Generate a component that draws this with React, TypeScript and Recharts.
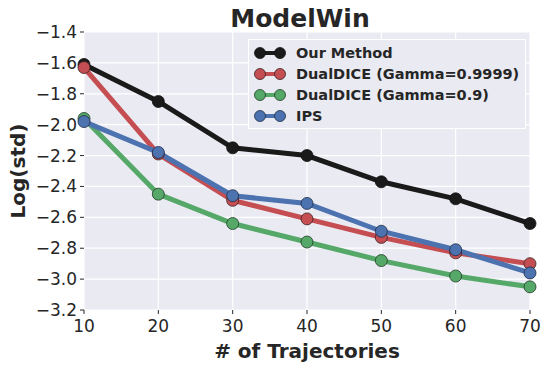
import React from 'react';
import { LineChart, Line, XAxis, YAxis, CartesianGrid } from 'recharts';

const trajectories = [10, 20, 30, 40, 50, 60, 70];
const ourMethod = [-1.61, -1.85, -2.15, -2.2, -2.37, -2.48, -2.64];
const dualDiceHigh = [-1.63, -2.19, -2.49, -2.61, -2.73, -2.83, -2.9];
const dualDiceLow = [-1.96, -2.45, -2.64, -2.76, -2.88, -2.98, -3.05];
const ips = [-1.98, -2.18, -2.46, -2.51, -2.69, -2.81, -2.96];
const yTicks = [-3.2, -3.0, -2.8, -2.6, -2.4, -2.2, -2.0, -1.8, -1.6, -1.4];

const series = [
  { key: 'our', name: 'Our Method', color: '#1a1a1a', edge: '#111111' },
  { key: 'ddHigh', name: 'DualDICE (Gamma=0.9999)', color: '#C44E52', edge: '#3a2020' },
  { key: 'ddLow', name: 'DualDICE (Gamma=0.9)', color: '#55A868', edge: '#203a25' },
  { key: 'ips', name: 'IPS', color: '#4C72B0', edge: '#1f2d45' },
];

const data = trajectories.map((t, i) => ({
  t,
  our: ourMethod[i],
  ddHigh: dualDiceHigh[i],
  ddLow: dualDiceLow[i],
  ips: ips[i],
}));

const fmt = (v: number) => (v < 0 ? '\u2212' : '') + Math.abs(v).toFixed(1);
const FONT = '"DejaVu Sans", sans-serif';

function LegendBox() {
  return (
    <div
      style={{
        position: 'absolute',
        left: 248,
        top: 39,
        background: '#EAEAF2',
        border: '1px solid #ffffff',
        padding: '2px 6px 2px 5px',
        fontFamily: FONT,
        fontWeight: 'bold',
        fontSize: 14.5,
        color: '#262626',
      }}
    >
      {series.map((s) => (
        <div key={s.key} style={{ display: 'flex', alignItems: 'center', height: 21 }}>
          <svg width={32} height={14} style={{ marginRight: 10 }}>
            <line x1={6} y1={7} x2={26} y2={7} stroke={s.color} strokeWidth={4} />
            <circle cx={6} cy={7} r={5.5} fill={s.color} stroke={s.edge} strokeWidth={0.8} />
            <circle cx={26} cy={7} r={5.5} fill={s.color} stroke={s.edge} strokeWidth={0.8} />
          </svg>
          <span>{s.name}</span>
        </div>
      ))}
    </div>
  );
}

export default function App() {
  return (
    <div style={{ position: 'absolute', left: 0, top: 0, width: 547, height: 369, background: '#fff' }}>
      <LineChart width={547} height={369} data={data} margin={{ top: 32, right: 17, bottom: 0, left: 0 }}>
        <CartesianGrid fill="#EAEAF2" stroke="#ffffff" strokeWidth={1.2} />
        <XAxis
          dataKey="t"
          type="number"
          domain={[10, 70]}
          ticks={trajectories}
          interval={0}
          height={59}
          axisLine={false}
          tickSize={4}
          tickMargin={6}
          tickLine={{ stroke: '#262626' }}
          tick={{ fontSize: 17, fill: '#262626', fontFamily: FONT }}
        />
        <YAxis
          type="number"
          domain={[-3.2, -1.4]}
          ticks={yTicks}
          interval={0}
          width={84}
          axisLine={false}
          tickSize={4}
          tickMargin={3}
          tickLine={{ stroke: '#262626' }}
          tickFormatter={fmt}
          tick={{ fontSize: 17, fill: '#262626', fontFamily: FONT }}
        />
        {series.map((s) => (
          <Line
            key={s.key}
            dataKey={s.key}
            name={s.name}
            stroke={s.color}
            strokeWidth={5}
            dot={{ r: 6, fill: s.color, stroke: s.edge, strokeWidth: 0.8 }}
            activeDot={false}
            isAnimationActive={false}
          />
        ))}
        <text
          x={300}
          y={27}
          textAnchor="middle"
          style={{ fontSize: 25, fontWeight: 'bold', fill: '#262626', fontFamily: FONT }}
        >
          ModelWin
        </text>
        <text
          x={307}
          y={358}
          textAnchor="middle"
          style={{ fontSize: 20, fontWeight: 'bold', fill: '#262626', fontFamily: FONT }}
        >
          # of Trajectories
        </text>
        <text
          x={0}
          y={0}
          transform="translate(25 171) rotate(-90)"
          textAnchor="middle"
          style={{ fontSize: 20, fontWeight: 'bold', fill: '#262626', fontFamily: FONT }}
        >
          Log(std)
        </text>
      </LineChart>
      <LegendBox />
    </div>
  );
}
